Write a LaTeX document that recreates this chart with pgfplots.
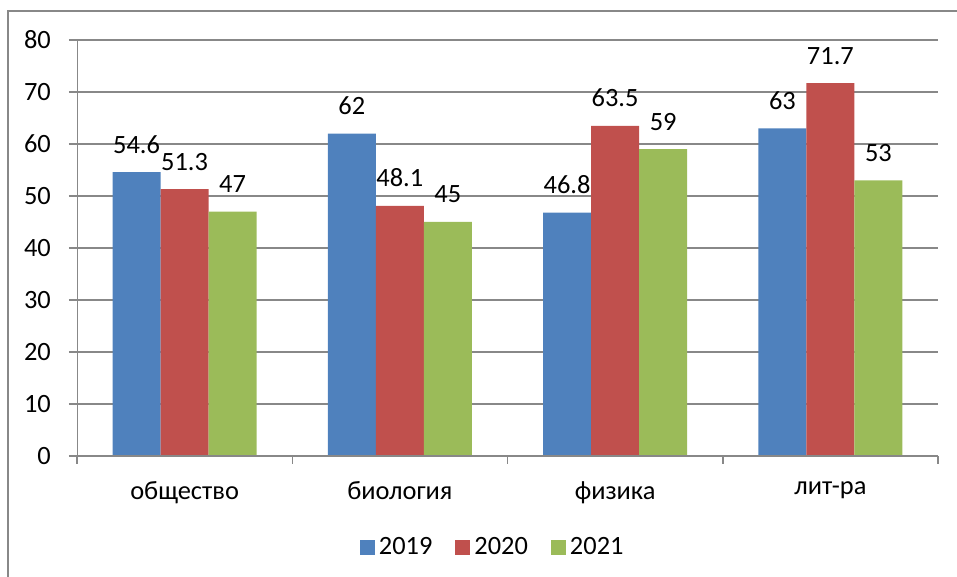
\documentclass[border=0pt]{standalone}
\usepackage{pgfplots}
\pgfplotsset{compat=1.18}
\usepackage{fontspec}
\setmainfont{Carlito}
\definecolor{cBlue}{HTML}{4F81BD}
\definecolor{cRed}{HTML}{C0504D}
\definecolor{cGreen}{HTML}{9BBB59}
\definecolor{cGrid}{HTML}{888888}
\newcommand{\fnt}{\fontsize{13.2}{15.8}\selectfont}
\begin{document}
\fnt
\begin{tikzpicture}
\useasboundingbox (0,0) rectangle (478.5pt,288.5pt);
\draw[cGrid, line width=0.7pt] (4pt,0) -- (4pt,283pt) -- (478.5pt,283pt);
\begin{axis}[
  at={(38.5pt,60.5pt)}, anchor=south west,
  scale only axis, width=430.5pt, height=208pt,
  xmin=-0.5, xmax=3.5, ymin=0, ymax=80,
  ybar=0pt, bar width=24pt,
  axis line style={draw=none},
  xtick pos=bottom, ytick pos=left,
  ytick={0,10,...,80},
  ymajorgrids, grid style={cGrid, line width=0.75pt},
  y tick style={cGrid, line width=0.75pt},
  x tick style={cGrid, line width=0.75pt},
  tick align=outside, major tick length=4pt,
  xtick={-0.5,0.5,1.5,2.5,3.5},
  xticklabels={},
  extra x ticks={0,1,2,3},
  extra x tick labels={общество,биология,физика,лит-ра},
  extra x tick style={major tick length=0pt, tick style={draw=none}},
  /pgf/number format/assume math mode=true,
  yticklabel style={font=\fnt, xshift=-4.5pt},
  xticklabel style={font=\fnt, yshift=-8pt},
  nodes near coords,
  every node near coord/.append style={font=\fnt, anchor=base, inner sep=0pt, yshift=9.5pt, text=black},
  legend columns=3,
  legend style={at={(0.484,-0.221)}, anchor=center, draw=none, fill=none,
    font=\fnt,
    /tikz/every even column/.append style={column sep=9.5pt}},
  legend image code/.code={\fill[#1,draw=none] (0pt,-3.75pt) rectangle (7.5pt,3.75pt);},
]
\addplot[fill=cBlue, draw=none] coordinates {(0,54.6) (1,62) (2,46.8) (3,63)};
\addplot[fill=cRed, draw=none] coordinates {(0,51.3) (1,48.1) (2,63.5) (3,71.7)};
\addplot[fill=cGreen, draw=none] coordinates {(0,47) (1,45) (2,59) (3,53)};
\draw[cGrid, line width=0.75pt] (axis cs:-0.5,80) -- (axis cs:-0.5,0) -- (axis cs:3.5,0);
\legend{2019,2020,2021}
\end{axis}
\end{tikzpicture}
\end{document}
